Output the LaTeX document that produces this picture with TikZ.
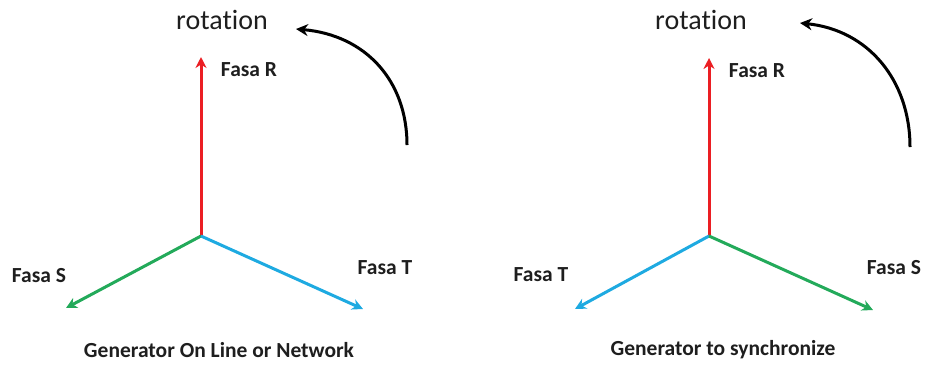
\documentclass[tikz,border=0pt]{standalone}
\usepackage{fontspec}
\setmainfont{Carlito}[RawFeature=-liga]
\usetikzlibrary{arrows.meta}
\definecolor{phR}{RGB}{235,30,35}
\definecolor{phS}{RGB}{35,170,90}
\definecolor{phT}{RGB}{30,170,225}
\definecolor{txt}{RGB}{30,30,30}
\tikzset{
  vec/.style={line width=3pt,-{Stealth[length=11pt,width=11pt]}},
  lbl/.style={font=\fontsize{21.5}{21.5}\selectfont\bfseries,text=txt,inner sep=0pt},
  rot/.style={font=\fontsize{28}{28}\selectfont,text=txt,inner sep=0pt},
  rotarr/.style={line width=3pt,-{Stealth[length=12pt,width=12pt]}}
}
\begin{document}
\begin{tikzpicture}[x=1pt,y=-1pt]
\useasboundingbox (0,0) rectangle (926,365);
% left diagram
\coordinate (oL) at (201,236);
\coordinate (rL) at (201,57);
\coordinate (sL) at (66,308);
\coordinate (tL) at (363,309);
\draw[vec,phR] (oL) -- (rL);
\draw[vec,phS] (oL) -- (sL);
\draw[vec,phT] (oL) -- (tL);
\node[lbl] (fRL) at (249,70) {Fasa R};
\node[lbl] (fSL) at (39,276) {Fasa S};
\node[lbl] (fTL) at (385,268) {Fasa T};
\node[rot] (rotL) at (222,20) {rotation};
\coordinate (aL1) at (407,145);
\coordinate (aL2) at (296,29);
\draw[rotarr] (aL1) .. controls (407,80) and (365,35) .. (aL2);
\node[lbl] (capL) at (219,350) {Generator On Line or Network};
% right diagram
\coordinate (oR) at (709,236);
\coordinate (rR) at (709,58);
\coordinate (tR) at (575,309);
\coordinate (sR) at (873,310);
\draw[vec,phR] (oR) -- (rR);
\draw[vec,phT] (oR) -- (tR);
\draw[vec,phS] (oR) -- (sR);
\node[lbl] (fRR) at (757,71) {Fasa R};
\node[lbl] (fTR) at (541,275) {Fasa T};
\node[lbl] (fSR) at (894,268) {Fasa S};
\node[rot] (rotR) at (701,20) {rotation};
\coordinate (aR1) at (910,147);
\coordinate (aR2) at (800,23);
\draw[rotarr] (aR1) .. controls (910,80) and (868,30) .. (aR2);
\node[lbl] (capR) at (723,350) {Generator to synchronize};
\end{tikzpicture}
\end{document}
